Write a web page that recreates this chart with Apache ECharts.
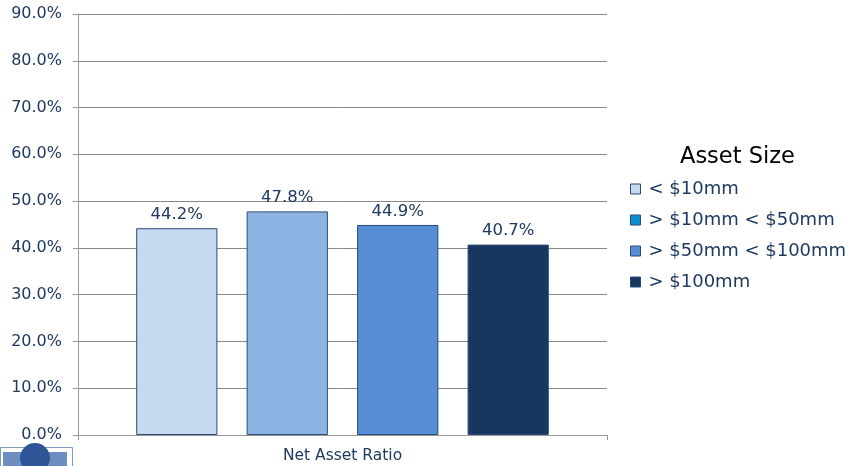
<!DOCTYPE html>
<html><head><meta charset="utf-8">
<script src="https://cdn.jsdelivr.net/npm/echarts@6/dist/echarts.min.js"></script>
<style>html,body{margin:0;padding:0;background:#fff}#c{width:854px;height:466px}</style>
</head><body><div id="c"></div>
<script>
const categories = ['Net Asset Ratio'];
const seriesNames = ['< $10mm', '> $10mm < $50mm', '> $50mm < $100mm', '> $100mm'];
const seriesValues = [[44.2], [47.8], [44.9], [40.7]];
const barColors = ['#C6D9F1', '#8EB4E3', '#558ED5', '#17375E'];
const legendColors = ['#C6D9F1', '#0A8FCC', '#558ED5', '#17375E'];
const yTicks = [0, 10, 20, 30, 40, 50, 60, 70, 80, 90];

const font = 'DejaVu Sans, Verdana, sans-serif';
const textColor = '#1F3A60';
const chart = echarts.init(document.getElementById('c'));
chart.setOption({
  animation: false,
  textStyle: { fontFamily: font },
  title: {
    text: 'Asset Size', left: 680, top: 146, padding: 0,
    textStyle: { fontFamily: font, fontSize: 22.5, fontWeight: 'normal', color: '#000' }
  },
  legend: {
    orient: 'vertical', left: 630, top: 180, padding: 0, itemWidth: 10, itemHeight: 10, itemGap: 13,
    icon: 'rect',
    textStyle: { fontFamily: font, fontSize: 18, color: textColor, padding: [0, 0, 0, 3] },
    data: seriesNames.map((n, i) => ({ name: n, itemStyle: { color: legendColors[i], borderColor: '#2A4A78', borderWidth: 1 } }))
  },
  grid: { left: 78, right: 247, top: 14, bottom: 31 },
  xAxis: {
    type: 'category', data: categories,
    axisLine: { lineStyle: { color: '#999' } },
    axisTick: { show: true, length: 5, lineStyle: { color: '#999' } },
    axisLabel: { color: textColor, fontSize: 15.5, margin: 13, fontFamily: font }
  },
  yAxis: {
    type: 'value', min: yTicks[0], max: yTicks[yTicks.length - 1], interval: 10,
    axisLine: { show: true, lineStyle: { color: '#999' } },
    axisTick: { show: true, length: 5, lineStyle: { color: '#999' } },
    splitLine: { lineStyle: { color: '#888' } },
    axisLabel: { color: textColor, fontSize: 16, margin: 16, fontFamily: font, formatter: v => v.toFixed(1) + '%' }
  },
  series: seriesNames.map((n, i) => ({
    name: n, type: 'bar', data: seriesValues[i],
    barGap: '36%', barCategoryGap: '22%',
    itemStyle: { color: barColors[i], borderColor: '#2A4A78', borderWidth: 1 },
    label: { show: true, position: 'top', distance: 5, color: textColor, fontSize: 16.5, fontFamily: font, formatter: p => p.value.toFixed(1) + '%' }
  })),
  graphic: [
    { type: 'rect', left: 0, top: 447, shape: { width: 72, height: 30 }, style: { fill: '#fff', stroke: '#7f9cc0', lineWidth: 1 } },
    { type: 'rect', left: 3, top: 452, shape: { width: 64, height: 14 }, style: { fill: '#6d8fc0' } },
    { type: 'circle', shape: { cx: 35, cy: 458, r: 15 }, style: { fill: '#2F5597' } }
  ]
});
</script></body></html>
